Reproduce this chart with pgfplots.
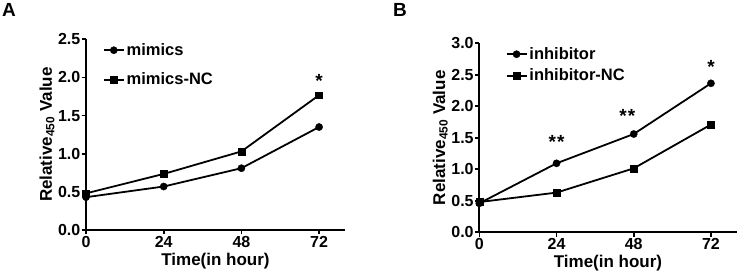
\documentclass[border=0pt]{standalone}
\usepackage{fontspec}
\setmainfont{Liberation Sans}
\usepackage{pgfplots}
\pgfplotsset{compat=1.18}
\tikzset{starnode/.style={font=\fontsize{19}{19}\selectfont\bfseries, yshift=-4pt, inner sep=0pt}}
\pgfplotsset{
 myax/.style={
  scale only axis, clip=false,
  axis lines=left, axis line style={line width=2pt,-},
  xmin=0, xmax=80, xtick={0,24,48,72},
  tick align=outside, major tick length=4.5pt,
  tick style={line width=1.6pt,black},
  /pgf/number format/assume math mode=true,
  ticklabel style={font=\fontsize{16}{16}\selectfont\bfseries},
  yticklabel style={inner sep=1pt,/pgf/number format/.cd,fixed,fixed zerofill,precision=1},
  xticklabel style={inner sep=1.5pt},
  xlabel={Time(in hour)}, ylabel={Relative\textsubscript{450} Value},
  label style={font=\fontsize{17}{17}\selectfont\bfseries},
  xlabel style={yshift=-0.5pt},
  ylabel style={yshift=-1pt},
  legend cell align=left,
  legend style={draw=none, fill=none, anchor=north west,
    font=\fontsize{16.5}{16.5}\selectfont\bfseries,
    /tikz/every even column/.append style={column sep=5pt}},
  legend image code/.code={\draw[mark repeat=2,mark phase=2] plot coordinates {(0pt,0pt)(10pt,0pt)(20pt,0pt)};},
 },
 ser1/.style={black, line width=1.8pt, mark=*, mark size=3.6pt, mark options={solid,line width=0.4pt}},
 ser2/.style={black, line width=1.8pt, mark=square*, mark size=3.4pt, mark options={solid,line width=0.4pt}},
}
\begin{document}
\begin{tikzpicture}
\useasboundingbox (0pt,0pt) rectangle (739pt,280pt);
\node[font=\fontsize{19}{19}\selectfont\bfseries, anchor=north west, inner sep=0pt] at (2pt,277pt) {A};
\node[font=\fontsize{19}{19}\selectfont\bfseries, anchor=north west, inner sep=0pt] at (393pt,277pt) {B};
\begin{axis}[myax, at={(86pt,50pt)}, anchor=south west, width=259pt, height=190.7pt,
  ymin=0, ymax=2.5, ytick={0,0.5,1,1.5,2,2.5},
  legend style={at={(0.053,1.0)}, row sep=12pt}]
\addplot[ser1] coordinates {(0,0.43) (24,0.57) (48,0.81) (72,1.35)};
\addlegendentry{mimics}
\addplot[ser2] coordinates {(0,0.48) (24,0.735) (48,1.03) (72,1.768)};
\addlegendentry{mimics-NC}
\node[starnode] at (axis cs:72,2.0) {*};
\end{axis}
\begin{axis}[myax, at={(479.3pt,47.7pt)}, anchor=south west, width=257.4pt, height=189pt,
  ymin=0, ymax=3, ytick={0,0.5,1,1.5,2,2.5,3},
  legend style={at={(0.09,1.0)}, row sep=4pt}]
\addplot[ser1] coordinates {(0,0.46) (24,1.095) (48,1.56) (72,2.365)};
\addlegendentry{inhibitor}
\addplot[ser2] coordinates {(0,0.48) (24,0.63) (48,1.015) (72,1.71)};
\addlegendentry{inhibitor-NC}
\node[starnode] at (axis cs:24,1.5) {*\kern1.2pt*};
\node[starnode] at (axis cs:46,1.91) {*\kern1.2pt*};
\node[starnode] at (axis cs:72,2.68) {*};
\end{axis}
\end{tikzpicture}
\end{document}
